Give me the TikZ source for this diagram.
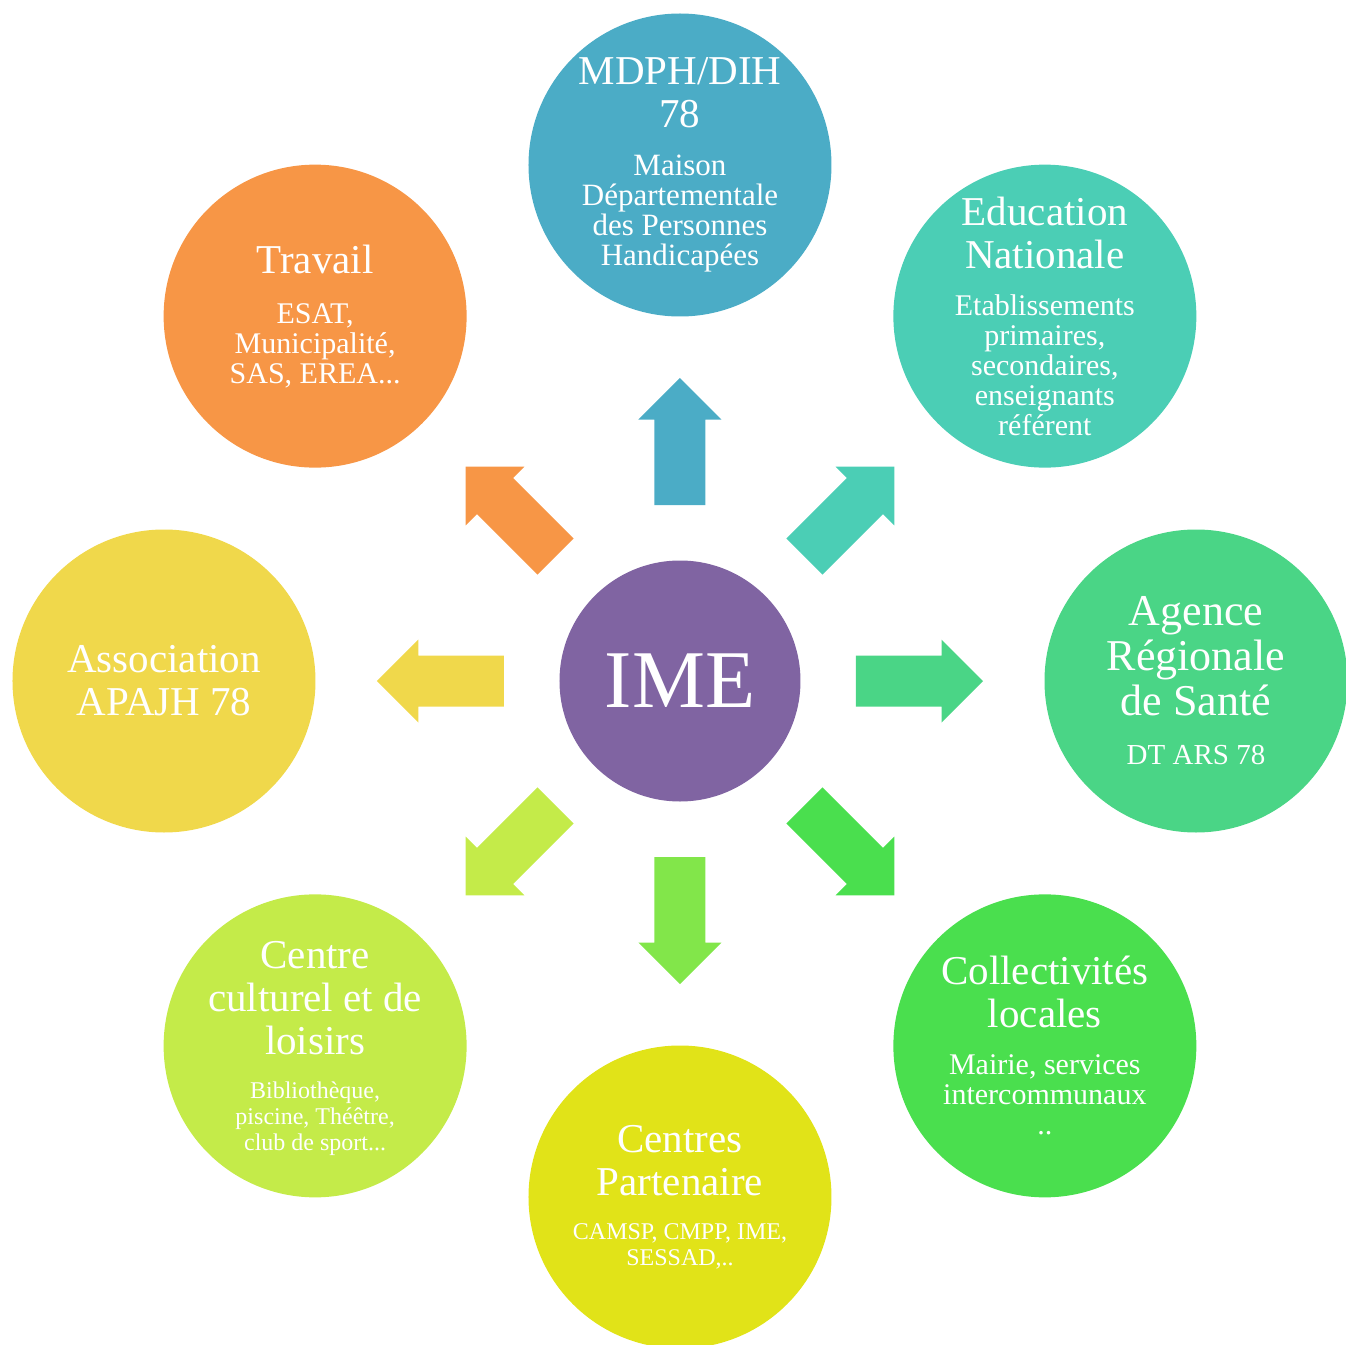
\documentclass[tikz,border=0pt]{standalone}
\usepackage{fontspec}
\setmainfont{Liberation Serif}
\usepackage{tikz}
\usetikzlibrary{calc,positioning}

\definecolor{imepurple}{HTML}{8064A2}
\definecolor{mdphblue}{HTML}{4BACC6}
\definecolor{eduteal}{HTML}{4BCEB5}
\definecolor{arsgreen}{HTML}{4AD586}
\definecolor{collgreen}{HTML}{4ADF4E}
\definecolor{downgreen}{HTML}{82E64A}
\definecolor{partyellow}{HTML}{E1E318}
\definecolor{cultlime}{HTML}{C4EB49}
\definecolor{assocyellow}{HTML}{F0D84B}
\definecolor{travorange}{HTML}{F79646}

\newcommand{\wordspace}{\spaceskip=\fontdimen2\font\relax\xspaceskip=\spaceskip}
\newcommand{\titlesize}{\fontsize{41}{43}\selectfont\wordspace}
\newcommand{\bigtitlesize}{\fontsize{44}{45}\selectfont\wordspace}
\newcommand{\subsize}{\fontsize{30}{30}\selectfont\wordspace}
\newcommand{\smallsubsize}{\fontsize{24}{26}\selectfont\wordspace}

\tikzset{
  bubble/.style={circle, minimum size=303, inner sep=0pt},
  bubbletext/.style={text=white, text width=300, align=center, inner sep=0pt},
  bigarrow/.pic={\fill (176,-25.5) -- (261.5,-25.5) -- (261.5,-41.5) -- (303,0) -- (261.5,41.5) -- (261.5,25.5) -- (176,25.5) -- cycle;}
}

\begin{document}
\begin{tikzpicture}[x=1pt,y=1pt]
\useasboundingbox (-680,-664) rectangle (665,681);
\node[circle, fill=imepurple, minimum size=241, inner sep=0pt, text=white, font=\fontsize{82}{82}\selectfont] (ime) at (0,0) {IME};
\node[bubble, fill=mdphblue] (mdph) at (90:516) {};
\node[bubble, fill=eduteal] (edu) at (45:516) {};
\node[bubble, fill=arsgreen] (ars) at (0:516) {};
\node[bubble, fill=collgreen] (coll) at (-45:516) {};
\node[bubble, fill=partyellow] (part) at (-90:516) {};
\node[bubble, fill=cultlime] (cult) at (-135:516) {};
\node[bubble, fill=assocyellow] (assoc) at (180:516) {};
\node[bubble, fill=travorange] (trav) at (135:516) {};
\node[bubbletext] (mdph-t) at (mdph) {{\titlesize MDPH/DIH\\78\par}\vspace{18pt}{\fontsize{31}{30}\selectfont\wordspace Maison\\Départementale\\des Personnes\\Handicapées\par}};
\node[bubbletext] (edu-t) at (edu) {{\titlesize Education\\Nationale\par}\vspace{17pt}{\subsize Etablissements\\primaires,\\secondaires,\\enseignants\\référent\par}};
\node[bubbletext] (ars-t) at (ars) {{\bigtitlesize Agence\\Régionale\\de Santé\par}\vspace{20pt}{\fontsize{29}{29}\selectfont\wordspace DT ARS 78\par}};
\node[bubbletext] (coll-t) at (coll) {{\titlesize Collectivités\\locales\par}\vspace{17pt}{\subsize Mairie, services\\intercommunaux\\..\par}};
\node[bubbletext] (part-t) at (part) {{\titlesize Centres\\Partenaire\par}\vspace{18pt}{\smallsubsize CAMSP, CMPP, IME,\\SESSAD,..\par}};
\node[bubbletext] (cult-t) at ($(cult)+(0,-3)$) {{\titlesize Centre\\culturel et de\\loisirs\par}\vspace{18pt}{\smallsubsize Bibliothèque,\\piscine, Théêtre,\\club de sport...\par}};
\node[bubbletext] (assoc-t) at (assoc) {{\titlesize Association\\APAJH 78\par}};
\node[bubbletext] (trav-t) at (trav) {{\titlesize Travail\par}\vspace{20pt}{\subsize ESAT,\\Municipalité,\\SAS, EREA...\par}};
% arrows out of the centre
\pic[rotate=90, fill=mdphblue] at (ime.center) {bigarrow};
\pic[rotate=45, fill=eduteal] at (ime.center) {bigarrow};
\pic[rotate=0, fill=arsgreen] at (ime.center) {bigarrow};
\pic[rotate=-45, fill=collgreen] at (ime.center) {bigarrow};
\pic[rotate=-90, fill=downgreen] at (ime.center) {bigarrow};
\pic[rotate=-135, fill=cultlime] at (ime.center) {bigarrow};
\pic[rotate=180, fill=assocyellow] at (ime.center) {bigarrow};
\pic[rotate=135, fill=travorange] at (ime.center) {bigarrow};
\end{tikzpicture}
\end{document}
